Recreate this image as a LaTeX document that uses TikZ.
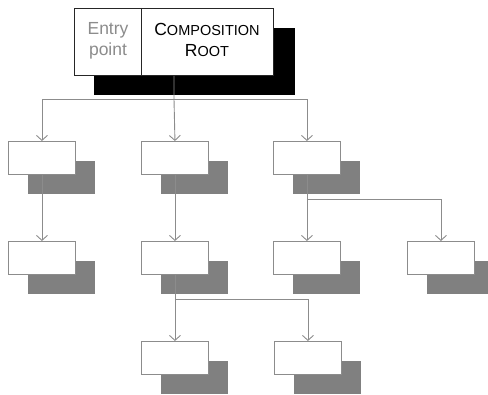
\documentclass[tikz,border=0pt]{standalone}
\usepackage{fontspec}
\setmainfont{Liberation Sans}
\usetikzlibrary{arrows.meta}
\definecolor{lineg}{RGB}{140,140,140}
\definecolor{shadg}{RGB}{128,128,128}
\definecolor{textg}{RGB}{140,140,140}
\tikzset{
  boxnode/.style={draw=lineg, fill=white, line width=0.9pt, minimum width=67pt, minimum height=33pt, inner sep=0pt, anchor=north west},
  shadnode/.style={fill=shadg, minimum width=67pt, minimum height=33pt, inner sep=0pt, anchor=north west},
  conn/.style={draw=lineg, line width=0.9pt},
  arr/.style={conn, -{Straight Barb[length=5pt,width=11pt,line width=0.9pt]}},
}
\newcommand{\bigc}[1]{{\fontsize{17.5}{21}\selectfont #1}}
\newcommand{\smc}[1]{{\fontsize{14.5}{21}\selectfont #1}}
\begin{document}
\begin{tikzpicture}[x=1pt,y=-1pt]
\useasboundingbox (0,0) rectangle (488,395);
% root shadow
\node[fill=black, minimum width=201pt, minimum height=67pt, inner sep=0pt, anchor=north west] (rootshadow) at (94,28) {};
% shadows
\foreach \n/\x/\y in {s1/8/141, s2/141/141, s3/273/141, s4/8/241, s5/141/241, s6/273/241, s7/407/241, s8/141/341, s9/274/341}
  \node[shadnode] (\n) at (\x+20,\y+20) {};
% junction coordinates
\coordinate (j0) at (174,99);
% root
\node[draw=black!85, fill=white, line width=0.9pt, minimum width=199pt, minimum height=67pt, inner sep=0pt, anchor=north west] (root) at (74,8) {};
\draw[draw=black!85, line width=0.9pt] (141,8) coordinate (dtop) -- (141,75) coordinate (dbot);
\node[text=textg, align=center, font=\fontsize{17.5}{21}\selectfont] (entry) at (108,41) {Entry\\point};
\node[align=center, font=\fontsize{17.5}{21}\selectfont] (comp) at (207,40) {\bigc{C}\smc{OMPOSITION}\\\bigc{R}\smc{OOT}};
% connectors
\draw[conn] (root.south) -- (j0);
\coordinate (j1) at (307,199);
\coordinate (j2) at (174,299);
\node[boxnode] (a1) at (8,141) {};
\node[boxnode] (a2) at (141,141) {};
\node[boxnode] (a3) at (273,141) {};
\node[boxnode] (b1) at (8,241) {};
\node[boxnode] (b2) at (141,241) {};
\node[boxnode] (b3) at (273,241) {};
\node[boxnode] (b4) at (407,241) {};
\node[boxnode] (c1) at (141,341) {};
\node[boxnode] (c2) at (274,341) {};
\draw[arr] (j0) -| (a1.north);
\draw[arr] (j0) -- (a2.north);
\draw[arr] (j0) -| (a3.north);
\draw[arr] (a1.south) -- (b1.north);
\draw[arr] (a2.south) -- (b2.north);
\draw[arr] (a3.south) -- (b3.north);
\draw[arr] (a3.south |- j1) -| (b4.north);
\draw[arr] (b2.south) -- (c1.north);
\draw[arr] (b2.south |- j2) -| (c2.north);
\end{tikzpicture}
\end{document}
